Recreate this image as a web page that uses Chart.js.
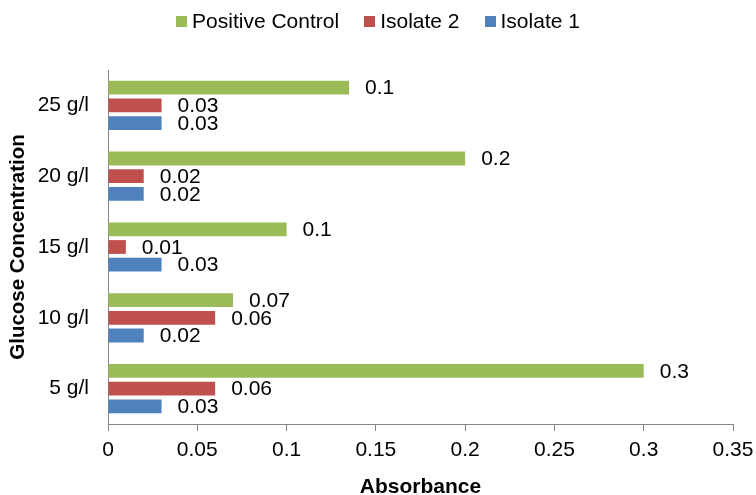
<!DOCTYPE html>
<html>
<head>
<meta charset="utf-8">
<title>Absorbance by glucose concentration</title>
<script src="https://cdn.jsdelivr.net/npm/chart.js@4/dist/chart.umd.min.js"></script>
<style>
  html, body { margin: 0; padding: 0; background: #fff; }
  canvas { display: block; }
</style>
</head>
<body>
<canvas id="chart" width="756" height="495"></canvas>
<script>
// Glucose concentrations (listed bottom to top on the chart)
const concentrations = ['5 g/l', '10 g/l', '15 g/l', '20 g/l', '25 g/l'];

// Absorbance readings per concentration
const isolate1 = [0.03, 0.02, 0.03, 0.02, 0.03];
const isolate2 = [0.06, 0.06, 0.01, 0.02, 0.03];
const positiveControl = [0.3, 0.07, 0.1, 0.2, 0.135];

// Value axis tick labels
const absorbanceTicks = [0, 0.05, 0.1, 0.15, 0.2, 0.25, 0.3, 0.35];

const FONT = "'Liberation Sans', Arial, Helvetica, sans-serif";
const TEXT_SIZE = 21;
const AXIS_GREY = '#868686';

// Value labels: one significant figure, placed just past the bar end
const valueLabels = {
  id: 'valueLabels',
  afterDatasetsDraw(chart) {
    const ctx = chart.ctx;
    ctx.save();
    ctx.font = TEXT_SIZE + 'px ' + FONT;
    ctx.fillStyle = '#000';
    ctx.textAlign = 'left';
    ctx.textBaseline = 'middle';
    chart.data.datasets.forEach((ds, i) => {
      chart.getDatasetMeta(i).data.forEach((bar, j) => {
        const v = ds.data[j];
        ctx.fillText(String(Number(v.toPrecision(1))), bar.x + 16, bar.y + 1);
      });
    });
    ctx.restore();
  }
};

// Legend across the top with small square keys
const topLegend = {
  id: 'topLegend',
  afterDraw(chart) {
    const ctx = chart.ctx;
    const items = chart.data.datasets.map(d => ({ text: d.label, color: d.backgroundColor }));
    const box = 11, gap = 5, spacing = 25, cy = 21;
    ctx.save();
    ctx.font = TEXT_SIZE + 'px ' + FONT;
    ctx.textAlign = 'left';
    ctx.textBaseline = 'middle';
    const widths = items.map(it => ctx.measureText(it.text).width);
    const total = widths.reduce((a, w) => a + box + gap + w, 0) + spacing * (items.length - 1);
    let x = (chart.width - total) / 2;
    items.forEach((it, i) => {
      ctx.fillStyle = it.color;
      ctx.fillRect(Math.round(x), Math.round(cy - box / 2), box, box);
      ctx.fillStyle = '#000';
      ctx.fillText(it.text, x + box + gap, cy + 1);
      x += box + gap + widths[i] + spacing;
    });
    ctx.restore();
  }
};

new Chart(document.getElementById('chart'), {
  type: 'bar',
  data: {
    labels: concentrations,
    datasets: [
      { label: 'Positive Control', data: positiveControl, backgroundColor: '#9BBB59' },
      { label: 'Isolate 2', data: isolate2, backgroundColor: '#C0504D' },
      { label: 'Isolate 1', data: isolate1, backgroundColor: '#4F81BD' }
    ]
  },
  options: {
    indexAxis: 'y',
    responsive: false,
    animation: false,
    events: [],
    datasets: {
      bar: { categoryPercentage: 0.75, barPercentage: 0.78, borderWidth: 0 }
    },
    layout: { padding: { top: 70, right: 23, bottom: 0, left: 0 } },
    plugins: {
      legend: { display: false },
      tooltip: { enabled: false }
    },
    scales: {
      x: {
        type: 'linear',
        min: 0,
        max: 0.35,
        afterBuildTicks: s => { s.ticks = absorbanceTicks.map(v => ({ value: v })); },
        afterFit: s => {
          s.height = 71;
          // the outer layout padding already leaves room for the end labels
          s.paddingLeft = 0;
          s.paddingRight = 0;
        },
        ticks: {
          color: '#000',
          font: { family: FONT, size: TEXT_SIZE },
          padding: 7,
          maxRotation: 0,
          autoSkip: false,
          callback: v => String(v)
        },
        grid: {
          display: true,
          drawOnChartArea: false,
          drawTicks: true,
          tickLength: 7,
          color: AXIS_GREY
        },
        border: { display: true, color: AXIS_GREY, width: 1 },
        title: {
          display: true,
          text: 'Absorbance',
          color: '#000',
          font: { family: FONT, size: TEXT_SIZE, weight: 'bold', lineHeight: 0.75 },
          padding: { top: 0, bottom: 0 }
        }
      },
      y: {
        type: 'category',
        reverse: true,
        offset: true,
        afterFit: s => { s.width = 108; },
        ticks: {
          color: '#000',
          font: { family: FONT, size: TEXT_SIZE },
          padding: 19
        },
        grid: { display: false, drawTicks: false },
        border: { display: true, color: AXIS_GREY, width: 1 },
        title: {
          display: true,
          text: 'Glucose Concentration',
          color: '#000',
          font: { family: FONT, size: 20.5, weight: 'bold' },
          padding: { top: 6, bottom: 0 }
        }
      }
    }
  },
  plugins: [valueLabels, topLegend]
});
</script>
</body>
</html>
